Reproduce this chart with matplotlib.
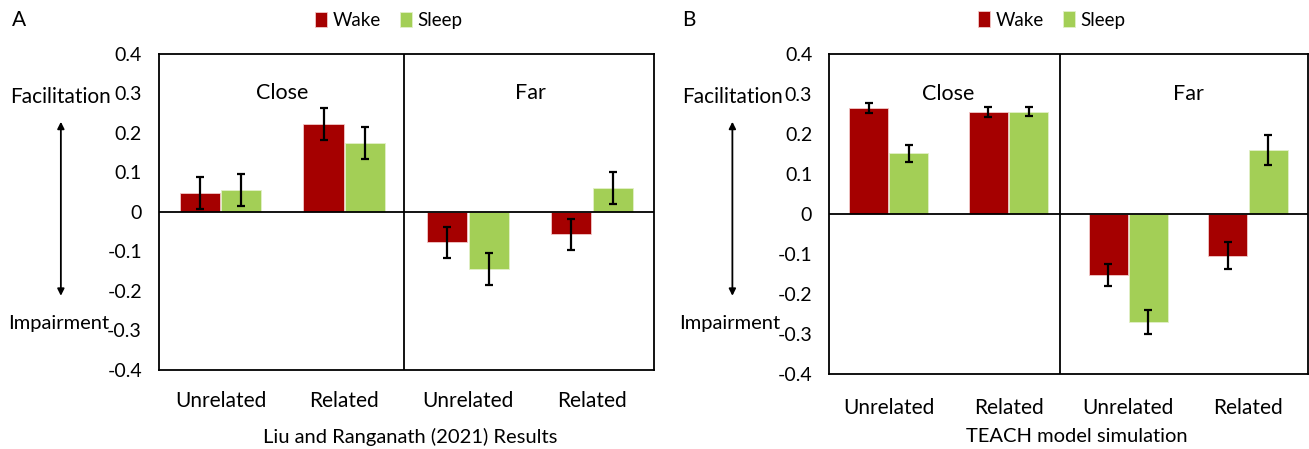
import numpy as np
import matplotlib.pyplot as plt
from matplotlib.patches import FancyArrowPatch

plt.rcParams['font.family'] = ['Lato', 'DejaVu Sans']

categories = ["Unrelated", "Related", "Unrelated", "Related"]
series = ["Wake", "Sleep"]

# panel A: Liu and Ranganath (2021)
a_wake = [0.048, 0.223, -0.077, -0.057]
a_sleep = [0.055, 0.175, -0.144, 0.061]
a_wake_err = [0.040, 0.041, 0.040, 0.040]
a_sleep_err = [0.041, 0.040, 0.040, 0.040]

# panel B: TEACH model simulation
b_wake = [0.266, 0.255, -0.152, -0.104]
b_sleep = [0.152, 0.256, -0.271, 0.160]
b_wake_err = [0.012, 0.012, 0.027, 0.034]
b_sleep_err = [0.022, 0.011, 0.030, 0.038]

wake_color = "#A50000"
sleep_color = "#A3CF56"

fig = plt.figure(figsize=(13.09, 4.49), dpi=100)


def draw_panel(rect, wake, sleep, wake_err, sleep_err, divider, xlabel, xlabel_x,
               letter, letter_x, side_x, label_pad):
    ax = fig.add_axes(rect)
    x = np.arange(len(categories))
    w = 0.325
    ekw = dict(ecolor="black", elinewidth=1.6, capsize=3, capthick=1.6)
    ax.bar(x - 0.168, wake, w, color=wake_color, edgecolor="#f2c9c9", linewidth=0.6,
           yerr=wake_err, error_kw=ekw, label=series[0])
    ax.bar(x + 0.168, sleep, w, color=sleep_color, edgecolor="#e2f0c8", linewidth=0.6,
           yerr=sleep_err, error_kw=ekw, label=series[1])
    ax.set_xlim(-0.5, 3.5)
    ax.set_ylim(-0.4, 0.4)
    ax.set_yticks([-0.4, -0.3, -0.2, -0.1, 0, 0.1, 0.2, 0.3, 0.4])
    ax.set_yticklabels(["-0.4", "-0.3", "-0.2", "-0.1", "0", "0.1", "0.2", "0.3", "0.4"])
    ax.set_xticks(x)
    ax.set_xticklabels(categories)
    ax.tick_params(axis="y", length=0, labelsize=14, pad=12)
    ax.tick_params(axis="x", length=0, labelsize=15, pad=label_pad)
    for s in ax.spines.values():
        s.set_linewidth(1.3)
    ax.axhline(0, color="black", lw=1.3)
    ax.axvline(divider, color="black", lw=1.3)
    ax.text(0.5, 0.3, "Close", ha="center", va="center", fontsize=15.5)
    ax.text(2.5, 0.3, "Far", ha="center", va="center", fontsize=15.5)
    ax.legend(loc="center", bbox_to_anchor=(0.465, 1.107), ncol=2, frameon=False,
              fontsize=13.5, handlelength=0.65, handleheight=0.9, handletextpad=0.3,
              columnspacing=1.0)
    fig.text(xlabel_x, 0.027, xlabel, fontsize=14.5, ha="center", va="center")
    fig.text(letter_x, 0.955, letter, fontsize=15, va="center")
    fig.text(side_x, 0.785, "Facilitation", fontsize=15, ha="center", va="center")
    fig.text(side_x - 0.002, 0.28, "Impairment", fontsize=14.5, ha="center", va="center")
    fig.add_artist(FancyArrowPatch(
        (side_x, 0.735), (side_x, 0.335), transform=fig.transFigure,
        arrowstyle="<|-|>", mutation_scale=10, color="black", lw=1.3))
    return ax


draw_panel([0.1212, 0.176, 0.3783, 0.7038], a_wake, a_sleep, a_wake_err, a_sleep_err,
           1.48, "Liu and Ranganath (2021) Results", 0.3132, "A", 0.009, 0.0465, 15)
draw_panel([0.6332, 0.167, 0.366, 0.712], b_wake, b_sleep, b_wake_err, b_sleep_err,
           1.43, "TEACH model simulation", 0.8225, "B", 0.521, 0.5595, 17)

fig.savefig("out.png", dpi=100)
